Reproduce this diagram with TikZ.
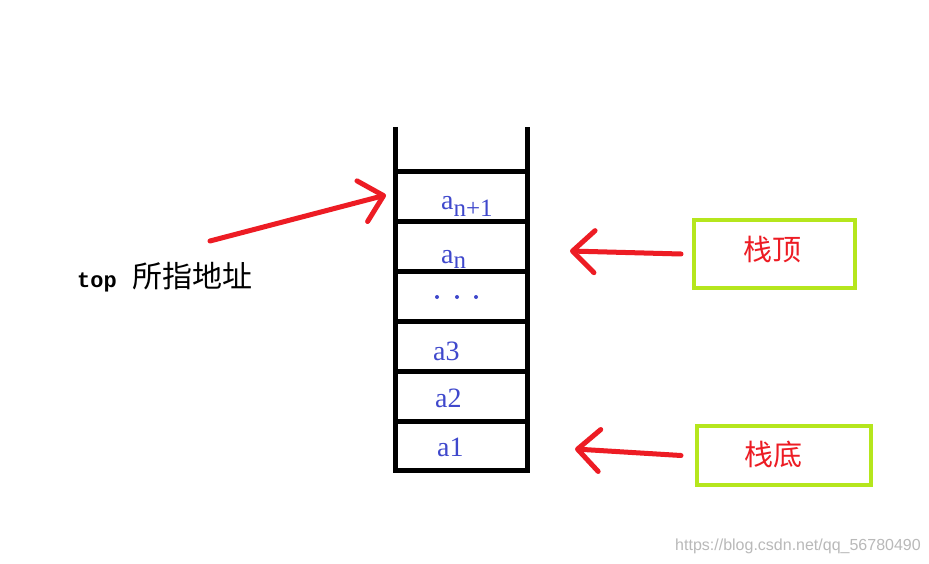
\documentclass[tikz,border=0pt]{standalone}
\usepackage{fontspec}
\setmainfont{Liberation Serif}
\newfontfamily\cjk{Noto Sans CJK SC}
\newfontfamily\monof{Liberation Mono}
\newfontfamily\sansf{Liberation Sans}
\usetikzlibrary{arrows.meta}
\definecolor{pred}{HTML}{ED1C24}
\definecolor{plime}{HTML}{B5E61D}
\definecolor{pblue}{HTML}{3F48CC}
\tikzset{
  wall/.style={line width=5pt, black},
  redarrow/.style={pred, line width=5pt, line cap=round,
    -{Straight Barb[length=22pt,width=42pt,line cap=round,line join=round]}},
  tagbox/.style={draw=plime, line width=4pt, inner sep=0pt},
  redtxt/.style={pred, font=\cjk\fontsize{29}{29}\selectfont, inner sep=0pt},
  cell/.style={pblue, font=\fontsize{28}{28}\selectfont, inner sep=0pt, anchor=base west},
  blackdot/.style={circle, fill=pblue, inner sep=0pt, minimum size=4pt}
}
\begin{document}
\begin{tikzpicture}[x=1pt,y=-1pt]
\useasboundingbox[fill=white] (0,0) rectangle (929,564);
% stack walls
\draw[wall] (395,127) -- (395,470) -- (527,470) -- (527,127);
\foreach \yy in {172,221.5,271.5,321.5,371.5,421.5}
  \draw[wall] (395,\yy) -- (527,\yy);
% cell labels
\node[cell] (an1) at (441,210) {a\raisebox{-6.5pt}{\fontsize{25}{25}\selectfont n+1}};
\node[cell] (an) at (441,263) {a\raisebox{-5pt}{\fontsize{25}{25}\selectfont n}};
\node[blackdot] (d1) at (437,297) {};
\node[blackdot] (d2) at (457,297) {};
\node[blackdot] (d3) at (476,297) {};
\node[cell] (a3) at (433,360) {a3};
\node[cell] (a2) at (435,407) {a2};
\node[cell] (a1) at (437,456) {a1};
% top label
\node[anchor=base west, inner sep=0pt] (toplab) at (77,287)
  {{\monof\bfseries\fontsize{22}{22}\selectfont top}\hspace{16pt}{\cjk\fontsize{30}{30}\selectfont 所指地址}};
% tag boxes
\node[tagbox, minimum width=161pt, minimum height=68pt] (topbox) at (774.5,254) {};
\node[redtxt] (toptxt) at (772,250) {栈顶};
\node[tagbox, minimum width=174pt, minimum height=59pt] (botbox) at (784,455.5) {};
\node[redtxt] (bottxt) at (773,454) {栈底};
% arrows
\coordinate (s1) at (210,241);
\coordinate (t1) at (386,195);
\draw[redarrow] (s1) -- (t1);
\coordinate (s2) at ([xshift=-11pt]topbox.west);
\coordinate (t2) at (570,251);
\draw[redarrow] (s2) -- (t2);
\coordinate (s3) at ([xshift=-14pt]botbox.west);
\coordinate (t3) at (575,449);
\draw[redarrow] (s3) -- (t3);
% watermark
\node[gray!55, font=\sansf\fontsize{16}{16}\selectfont, inner sep=0pt] (wm) at (798,546) {https://blog.csdn.net/qq\_56780490};
\end{tikzpicture}
\end{document}
